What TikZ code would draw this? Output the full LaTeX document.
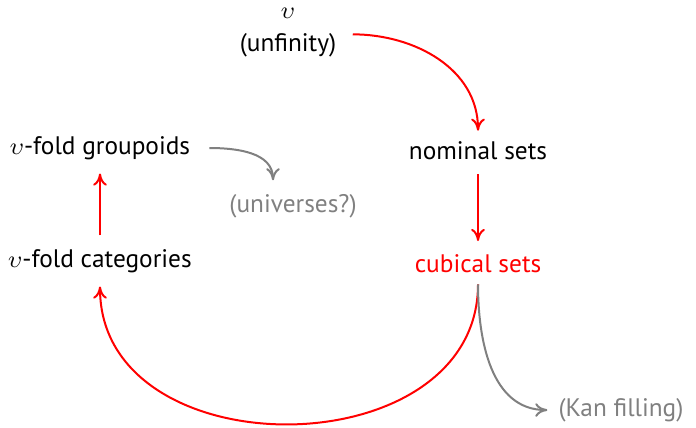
\documentclass[tikz,border=0pt]{standalone}
\usepackage{fontspec}
\setmainfont{PT Sans}
\usetikzlibrary{arrows.meta,positioning,calc}
\definecolor{hotred}{HTML}{FF0000}
\definecolor{midgray}{HTML}{808080}

\begin{document}
\begin{tikzpicture}[
    x=0.375pt, y=-0.375pt,
    font=\fontsize{9.5}{12.4}\selectfont,
    >={To[length=1.6mm,width=1.8mm]},
    item/.style={align=center, inner sep=2pt},
    hot/.style={item, text=hotred},
    aside/.style={item, text=midgray},
    mainarrow/.style={->, line width=0.75pt, draw=hotred},
    sidearrow/.style={->, line width=0.75pt, draw=midgray},
]
    \useasboundingbox (0,0) rectangle (696,427);

    % =====================================================================
    % Nodes
    % =====================================================================
    \node[item] (unf) at (288, 33) {$\upsilon$\\(unfinity)};
    \node[item] (nom) at (478, 151) {nominal sets};
    \node[hot]  (cub) at (478, 264) {cubical sets};
    \node[item] (grp) at (100, 148) {$\upsilon$-fold groupoids};
    \node[item] (cat) at (100, 261) {$\upsilon$-fold categories};
    \node[aside] (univ) at (293, 206) {(universes?)};
    \node[aside] (kan) at (621, 410) {(Kan filling)};

    % =====================================================================
    % Red path
    % =====================================================================
    \draw[mainarrow] ([xshift=4pt, yshift=-0.5pt]unf.east) to[out=0, in=90] ([yshift=2pt]nom.north);
    \draw[mainarrow] ([yshift=-3pt]nom.south) -- ([yshift=3pt]cub.north);
    \draw[mainarrow] ([yshift=-2pt]cub.south) .. controls +(0, 185) and +(0, 185) .. ([yshift=-3pt]cat.south);
    \draw[mainarrow] ([yshift=3pt]cat.north) -- ([yshift=-3pt]grp.south);

    % Side remarks
    \draw[sidearrow] ([xshift=5pt]grp.east) to[out=0, in=90] ([xshift=-7.5pt, yshift=3pt]univ.north);
    \draw[sidearrow] ([yshift=-2pt]cub.south) to[out=-90, in=180] ([xshift=-2pt]kan.west);

\end{tikzpicture}
\end{document}
